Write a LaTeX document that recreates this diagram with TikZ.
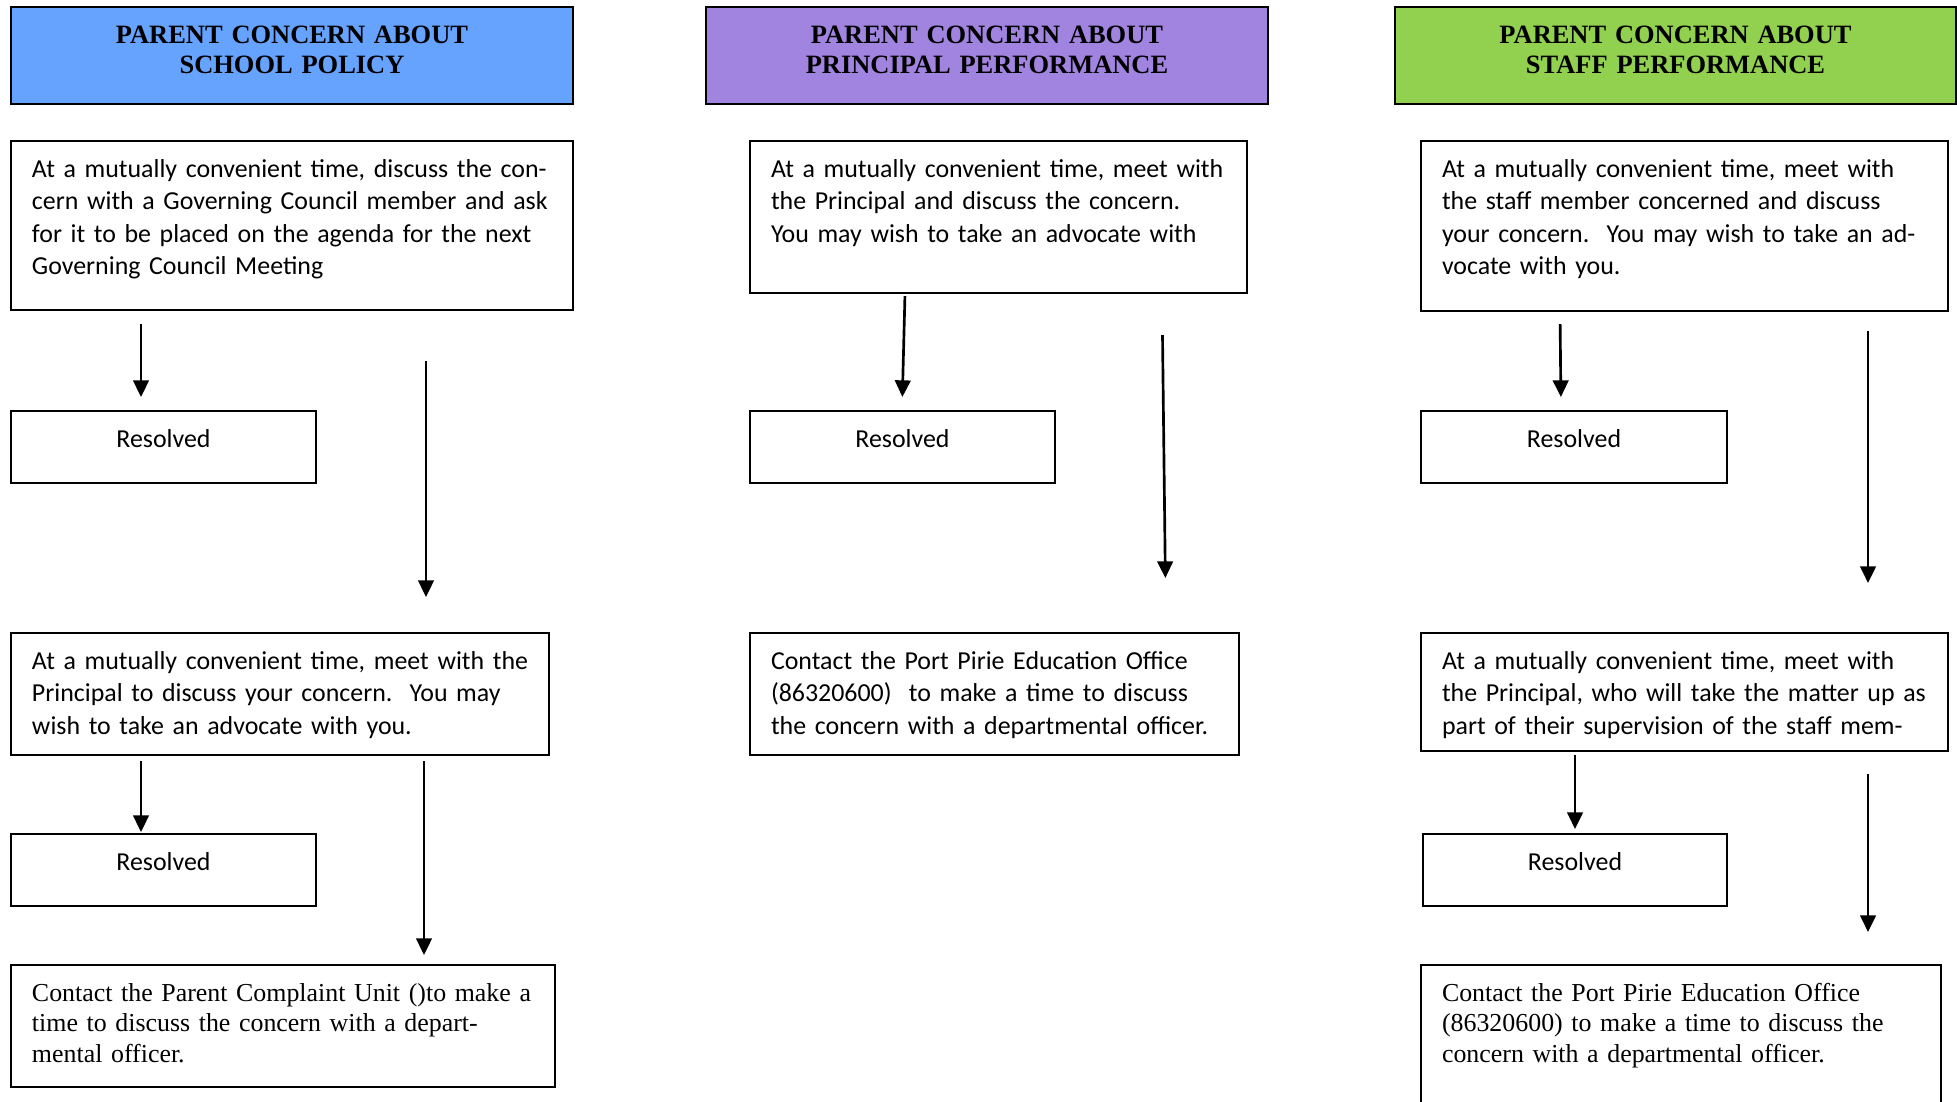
\documentclass[tikz,border=0pt]{standalone}
\usepackage{fontspec}
\setmainfont{Liberation Serif}
\newfontfamily\calibri{Carlito}
\usepackage{tikz}
\usetikzlibrary{arrows.meta,calc,positioning}

\definecolor{policyblue}{RGB}{102,163,255}
\definecolor{principalpurple}{RGB}{161,131,224}
\definecolor{staffgreen}{RGB}{146,208,80}

\begin{document}
\begin{tikzpicture}[x=0.45pt, y=-0.45pt,
                    box/.style={draw, line width=1pt, anchor=north west, inner xsep=9.45pt,
                                inner ysep=0pt, outer sep=0pt, text height=16.2pt},
                    heading/.style={box, align=center, text width=234pt, text depth=27.45pt,
                                font=\fontsize{11.9}{13.8}\selectfont\bfseries},
                    sansbox/.style={box, align=left, font=\calibri\fontsize{11.65}{14.64}\selectfont},
                    serifbox/.style={box, align=left, font=\fontsize{11.65}{13.8}\selectfont},
                    resolved/.style={sansbox, align=center, text width=118.35pt, text depth=16.2pt},
                    arr/.style={-{Triangle[width=7pt,length=7.5pt]}, line width=1.2pt}]

    \useasboundingbox (0,0) rectangle (1957,1101);

    % headings
    \node[heading, fill=policyblue] (t1) at (11,7) {PARENT CONCERN ABOUT\\SCHOOL POLICY};
    \node[heading, fill=principalpurple] (t2) at (706,7) {PARENT CONCERN ABOUT\\PRINCIPAL PERFORMANCE};
    \node[heading, fill=staffgreen, text width=233.55pt] (t3) at (1395,7) {PARENT CONCERN ABOUT\\STAFF PERFORMANCE};

    % school policy
    \node[sansbox, text width=234pt, text depth=59.85pt] (a1) at (11,141)
        {At a mutually convenient time, discuss the con-\\
         cern with a Governing Council member and ask\\
         for it to be placed on the agenda for the next\\
         Governing Council Meeting};
    \node[resolved] (r1) at (11,411) {Resolved};
    \node[sansbox, text width=223.2pt, text depth=38.7pt] (a2) at (11,633)
        {At a mutually convenient time, meet with the\\
         Principal to discuss your concern.\ \ You may\\
         wish to take an advocate with you.};
    \node[resolved] (r2) at (11,834) {Resolved};
    \node[serifbox, text width=225.9pt, text depth=38.7pt] (a3) at (11,965)
        {Contact the Parent Complaint Unit ()to make a\\
         time to discuss the concern with a depart-\\
         mental officer.};

    % principal performance
    \node[sansbox, text width=204.75pt, text depth=52.2pt] (b1) at (750,141)
        {At a mutually convenient time, meet with\\
         the Principal and discuss the concern.\\
         You may wish to take an advocate with};
    \node[resolved] (r3) at (750,411) {Resolved};
    \node[sansbox, text width=201.15pt, text depth=38.7pt] (b2) at (750,633)
        {Contact the Port Pirie Education Office\\
         (86320600)\ \ to make a time to discuss\\
         the concern with a departmental officer.};

    % staff performance
    \node[sansbox, text width=218.25pt, text depth=60.3pt] (c1) at (1421,141)
        {At a mutually convenient time, meet with\\
         the staff member concerned and discuss\\
         your concern.\ \ You may wish to take an ad-\\
         vocate with you.};
    \node[resolved, text width=118.8pt] (r4) at (1421,411) {Resolved};
    \node[sansbox, text width=218.25pt, text depth=36.9pt] (c2) at (1421,633)
        {At a mutually convenient time, meet with\\
         the Principal, who will take the matter up as\\
         part of their supervision of the staff mem-};
    \node[resolved, text width=117.9pt] (r5) at (1423,834) {Resolved};
    \node[serifbox, text width=215.1pt, text depth=51.3pt] (c3) at (1421,965)
        {Contact the Port Pirie Education Office\\
         (86320600) to make a time to discuss the\\
         concern with a departmental officer.};

    % arrows
    \draw[arr, shorten <=6.3pt, shorten >=6.3pt] (141,0 |- a1.south) -- (141,0 |- r1.north);
    \draw[arr, shorten <=22.95pt, shorten >=16.2pt] (426,0 |- a1.south) -- (426,0 |- a2.north);
    \draw[arr, shorten <=2.7pt, shorten >=0.9pt] (141,0 |- a2.south) -- (141,0 |- r2.north);
    \draw[arr, shorten <=2.7pt, shorten >=4.5pt] (424,0 |- a2.south) -- (424,0 |- a3.north);

    \draw[arr, shorten <=1.35pt, shorten >=6.3pt] (905,0 |- b1.south) -- (902,0 |- r3.north);
    \draw[arr, shorten <=18.9pt, shorten >=24.75pt] (1162,0 |- b1.south) -- (1166,0 |- b2.north);

    \draw[arr, shorten <=5.85pt, shorten >=6.3pt] (1560,0 |- c1.south) -- (1561,0 |- r4.north);
    \draw[arr, shorten <=9pt, shorten >=22.5pt] (1868,0 |- c1.south) -- (1868,0 |- c2.north);
    \draw[arr, shorten <=1.8pt, shorten >=2.25pt] (1575,0 |- c2.south) -- (1575,0 |- r5.north);
    \draw[arr, shorten <=10.35pt, shorten >=14.85pt] (1868,0 |- c2.south) -- (1868,0 |- c3.north);

\end{tikzpicture}
\end{document}
